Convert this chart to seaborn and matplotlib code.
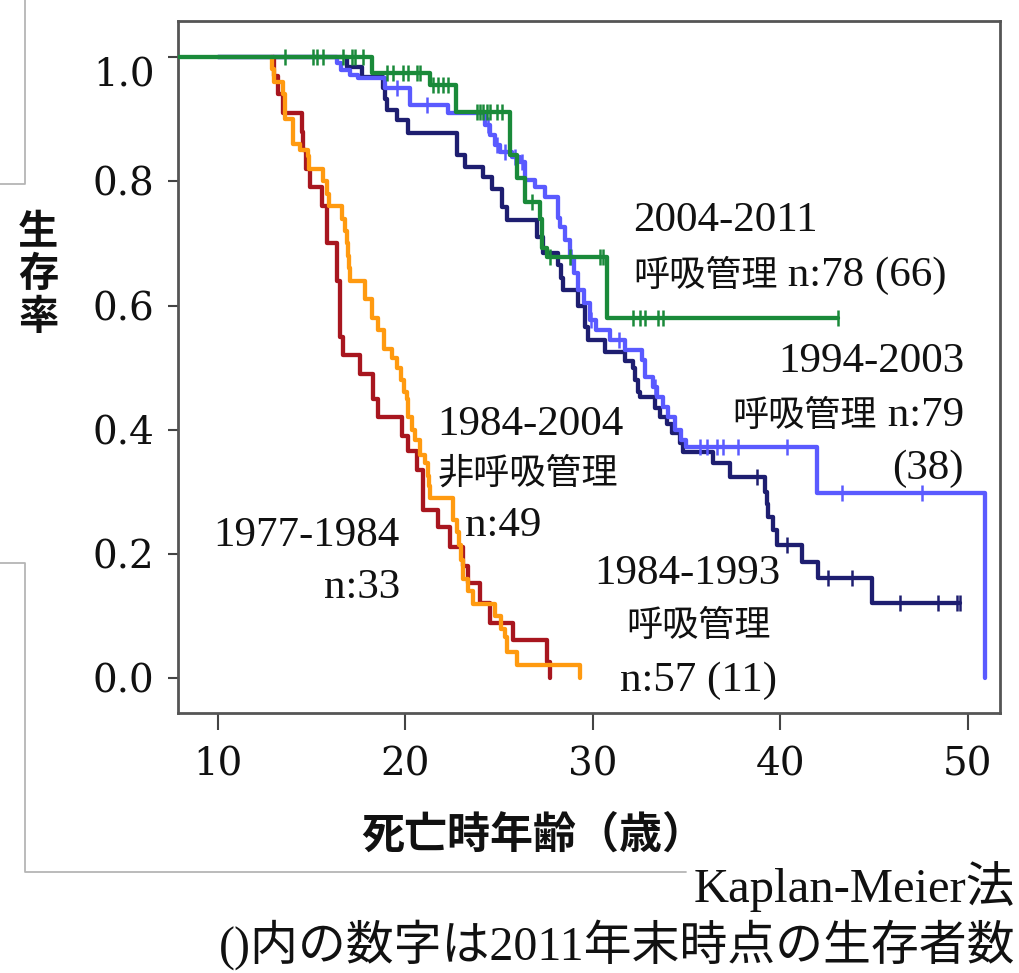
import numpy as np
import matplotlib
matplotlib.use("Agg")
import matplotlib.pyplot as plt
from matplotlib.lines import Line2D
from matplotlib.transforms import ScaledTranslation
import seaborn as sns

# ---------------- data ----------------
# step times (age at death) and survival after each step
red_start = 12.92
red_t = [12.99, 13.20, 13.47, 14.48, 14.53, 14.69, 14.91, 15.55, 15.81, 16.35,
         16.51, 16.67, 17.57, 18.27, 18.53, 19.81, 20.13, 20.61, 20.93, 21.73,
         22.37, 23.07, 23.33, 23.97, 24.51, 25.73, 27.55, 27.71]
red_s = [0.97, 0.94, 0.91, 0.88, 0.85, 0.82, 0.79, 0.76, 0.70, 0.64,
         0.55, 0.52, 0.49, 0.45, 0.42, 0.39, 0.365, 0.335, 0.27, 0.243,
         0.211, 0.18, 0.153, 0.121, 0.089, 0.061, 0.026, 0.0]
red_end = 27.71
red_c = []

orange_start = 12.85
orange_t = [12.88, 12.99, 13.47, 13.57, 14.0, 14.37, 14.8, 14.85, 15.6, 15.81,
            15.92, 16.61, 16.77, 16.88, 16.93, 16.99, 17.04, 17.84, 18.21, 18.53,
            18.85, 19.28, 19.55, 19.76, 19.92, 20.08, 20.13, 20.35, 20.51, 20.77,
            21.04, 21.2, 21.25, 21.31, 22.53, 22.75, 22.85, 22.96, 23.07, 23.33,
            23.6, 24.77, 25.09, 25.31, 25.41, 25.95, 29.31]
orange_s = [0.98, 0.96, 0.94, 0.90, 0.86, 0.85, 0.84, 0.82, 0.80, 0.78,
            0.76, 0.74, 0.72, 0.70, 0.68, 0.66, 0.64, 0.61, 0.58, 0.56,
            0.53, 0.515, 0.50, 0.48, 0.46, 0.45, 0.42, 0.40, 0.383, 0.36,
            0.346, 0.325, 0.31, 0.29, 0.255, 0.235, 0.215, 0.19, 0.16, 0.14,
            0.12, 0.10, 0.08, 0.066, 0.042, 0.021, 0.0]
orange_end = 29.31
orange_c = []

navy_start = 10.0
navy_t = [16.88, 17.68, 18.8, 18.91, 19.01, 19.55, 20.13, 22.75, 23.17, 24.13,
          24.61, 25.15, 25.41, 27.01, 27.33, 28.13, 28.29, 28.4, 29.2, 29.57,
          29.73, 30.64, 31.71, 32.13, 32.24, 32.4, 32.51, 33.31, 33.57, 33.95,
          34.21, 34.64, 34.8, 36.4, 37.31, 39.17, 39.28, 39.33, 39.6, 39.81,
          41.15, 42.0, 44.88]
navy_s = [0.984, 0.968, 0.95, 0.933, 0.915, 0.899, 0.878, 0.842, 0.823, 0.807,
          0.787, 0.758, 0.737, 0.71, 0.684, 0.665, 0.645, 0.625, 0.60, 0.565,
          0.544, 0.525, 0.51, 0.50, 0.48, 0.46, 0.452, 0.435, 0.42, 0.41,
          0.395, 0.378, 0.364, 0.346, 0.324, 0.30, 0.28, 0.259, 0.238, 0.214,
          0.187, 0.161, 0.121]
navy_end = 49.57
navy_c = [38.75, 40.35, 42.53, 43.81, 46.37, 48.4, 49.41, 49.57]

blue_start = 10.0
blue_t = [16.35, 16.56, 17.04, 17.47, 18.91, 20.24, 22.27, 24.24, 24.51, 24.77,
          25.04, 25.68, 26.11, 26.37, 26.91, 27.44, 28.13, 28.24, 28.51, 28.77,
          28.99, 29.2, 29.52, 29.84, 30.16, 30.91, 31.71, 32.61, 32.77, 33.2,
          33.41, 33.73, 34.0, 34.37, 34.69, 34.96, 41.95, 50.91]
blue_s = [0.99, 0.979, 0.971, 0.966, 0.95, 0.923, 0.91, 0.89, 0.874, 0.858,
          0.847, 0.839, 0.831, 0.802, 0.79, 0.775, 0.741, 0.726, 0.705, 0.678,
          0.652, 0.625, 0.604, 0.576, 0.56, 0.544, 0.528, 0.512, 0.485, 0.469,
          0.452, 0.436, 0.42, 0.40, 0.383, 0.372, 0.298, 0.0]
blue_end = 50.91
blue_c = [19.55, 21.15, 24.4, 24.9, 25.3, 25.85, 26.2, 28.85, 29.9, 31.4, 33.3,
          35.71, 36.08, 36.61, 36.93, 37.73, 40.35, 43.28, 47.55]

green_start = 0.0
green_t = [18.21, 21.31, 22.69, 25.57, 25.95, 26.37, 27.17, 27.28, 27.55, 30.75]
green_s = [0.974, 0.955, 0.911, 0.842, 0.805, 0.766, 0.74, 0.692, 0.678, 0.58]
green_end = 43.07
green_c = [13.57, 15.07, 15.28, 15.6, 16.67, 17.15, 17.31, 17.73, 19.01, 19.33,
           19.87, 20.13, 20.61, 20.77, 21.47, 21.73, 22.0, 22.27, 23.81, 23.97,
           24.13, 24.35, 24.51, 24.88, 25.15, 26.75, 27.71, 28.77, 30.37, 30.53,
           32.13, 32.51, 32.77, 33.47, 33.73, 43.07]

xticks = [10, 20, 30, 40, 50]
yticks = [0.0, 0.2, 0.4, 0.6, 0.8, 1.0]
ytick_labels = ["0.0", "0.2", "0.4", "0.6", "0.8", "1.0"]

# ---------------- style ----------------
sns.set_style("ticks")
plt.rcParams["font.family"] = ["Liberation Serif", "Noto Sans CJK JP"]
CJK = ["Noto Sans CJK JP", "DejaVu Sans"]
LAT = ["Liberation Serif", "Noto Sans CJK JP"]
TICKF = ["DejaVu Serif", "Noto Sans CJK JP"]

W, H = 1019, 973
fig = plt.figure(figsize=(W / 100, H / 100), dpi=100)
ax = fig.add_axes([178 / W, 1 - 713 / H, (1000 - 178) / W, (713 - 21) / H])

series = [
    ("navy", navy_start, navy_t, navy_s, navy_end, navy_c, "#1E1E70", 2),
    ("blue", blue_start, blue_t, blue_s, blue_end, blue_c, "#5A5AFF", 3),
    ("red", red_start, red_t, red_s, red_end, red_c, "#A8161F", 4),
    ("orange", orange_start, orange_t, orange_s, orange_end, orange_c, "#FF9A10", 5),
    ("green", green_start, green_t, green_s, green_end, green_c, "#1A8A3A", 6),
]

for name, t0, ts, ss, tend, cs, col, z in series:
    xs = [t0] + list(ts) + [tend]
    ys = [1.0] + list(ss) + [ss[-1]]
    sns.lineplot(x=xs, y=ys, drawstyle="steps-post", estimator=None, sort=False,
                 color=col, linewidth=3.1, ax=ax, zorder=z)
    if cs:
        lev = np.array([1.0] + list(ss))
        idx = np.searchsorted(np.array(ts), np.array(cs), side="right")
        sns.scatterplot(x=cs, y=lev[idx], marker="|", s=120, linewidth=1.8,
                        color=col, ax=ax, zorder=z)

ax.set_xlim(7.87, 51.71)
ax.set_ylim(-0.056, 1.058)
ax.set_xticks(xticks)
ax.set_xticklabels([str(v) for v in xticks])
ax.set_yticks(yticks)
ax.set_yticklabels(ytick_labels)
for lab in ax.get_xticklabels() + ax.get_yticklabels():
    lab.set_fontfamily(TICKF)
    lab.set_fontsize(28)
    lab.set_color("#111111")
shift = ScaledTranslation(8 / 100, 0, fig.dpi_scale_trans)
for lab in ax.get_xticklabels():
    lab.set_transform(lab.get_transform() + shift)
ax.get_yticklabels()[-1].set_va("top")
ax.tick_params(axis="x", direction="out", length=12, width=1.5, color="#444444", pad=12)
ax.tick_params(axis="y", direction="out", length=7, width=1.5, color="#444444", pad=10)
for sp in ax.spines.values():
    sp.set_visible(True)
    sp.set_color("#555555")
    sp.set_linewidth(2)

# axis labels
ax.set_xlabel("死亡時年齢（歳）", fontfamily=CJK, fontsize=31, fontweight="bold", color="#111111")
ax.xaxis.set_label_coords(0.432, -0.176)
ax.xaxis.label.set_va("center")
ax.text(-0.170, 0.633, "生\n存\n率", transform=ax.transAxes, ha="center", va="center",
        fontfamily=CJK, fontsize=29, fontweight="bold", linespacing=1.05, color="#111111")

# ---------------- annotations ----------------
def px2data(px, py):
    return 10 + (px - 218) / 18.75, (678 - py) / 621

renderer = fig.canvas.get_renderer()

def lat(px, py, s, ha="left", size=31):
    x, y = px2data(px, py)
    return ax.text(x, y, s, ha=ha, va="baseline", fontfamily=LAT, fontsize=size, color="#111111")

def cjk(px, py, s, ha="left", size=26):
    x, y = px2data(px, py)
    return ax.text(x, y, s, ha=ha, va="baseline", fontfamily=CJK, fontsize=size, color="#111111")

def mixed_left(px, py, s_cjk, s_lat):
    t1 = cjk(px, py, s_cjk)
    w = t1.get_window_extent(renderer).width
    x, y = px2data(px, py)
    ax.annotate(s_lat, xy=(x, y), xytext=(w * 72 / fig.dpi, 0), textcoords="offset points",
                ha="left", va="baseline", fontfamily=LAT, fontsize=31, color="#111111")

def mixed_right(px, py, s_cjk, s_lat):
    t2 = lat(px, py, s_lat, ha="right")
    w = t2.get_window_extent(renderer).width
    x, y = px2data(px, py)
    ax.annotate(s_cjk, xy=(x, y), xytext=(-w * 72 / fig.dpi, 0), textcoords="offset points",
                ha="right", va="baseline", fontfamily=CJK, fontsize=26, color="#111111")

lat(633, 231, "2004-2011")
mixed_left(633, 286, "呼吸管理", " n:78 (66)")
lat(964, 372, "1994-2003", ha="right")
mixed_right(964, 426, "呼吸管理", " n:79")
lat(964, 479, "(38)", ha="right")
lat(437, 435, "1984-2004")
cjk(438, 483, "非呼吸管理")
lat(465, 536, "n:49")
lat(400, 546, "1977-1984", ha="right")
lat(400, 598, "n:33", ha="right")
lat(687, 584, "1984-1993", ha="center")
cjk(699, 636, "呼吸管理", ha="center")
lat(699, 691, "n:57 (11)", ha="center")

# footer
fig.text(1015 / W, 1 - 887 / H, "Kaplan-Meier法", ha="right", va="center",
         fontfamily=LAT, fontsize=35, color="#111111")
fig.text(1015 / W, 1 - 945 / H, "()内の数字は2011年末時点の生存者数", ha="right", va="center",
         fontfamily=LAT, fontsize=34.5, color="#111111")

# decorative slide frame lines
def fline(xs, ys):
    fig.add_artist(Line2D([x / W for x in xs], [1 - y / H for y in ys],
                          transform=fig.transFigure, color="#b5b5b5", lw=1.3))

fline([25, 25, 0], [0, 184, 184])
fline([0, 25, 25, 686], [563, 563, 872, 872])

fig.savefig("out.png", dpi=100)
